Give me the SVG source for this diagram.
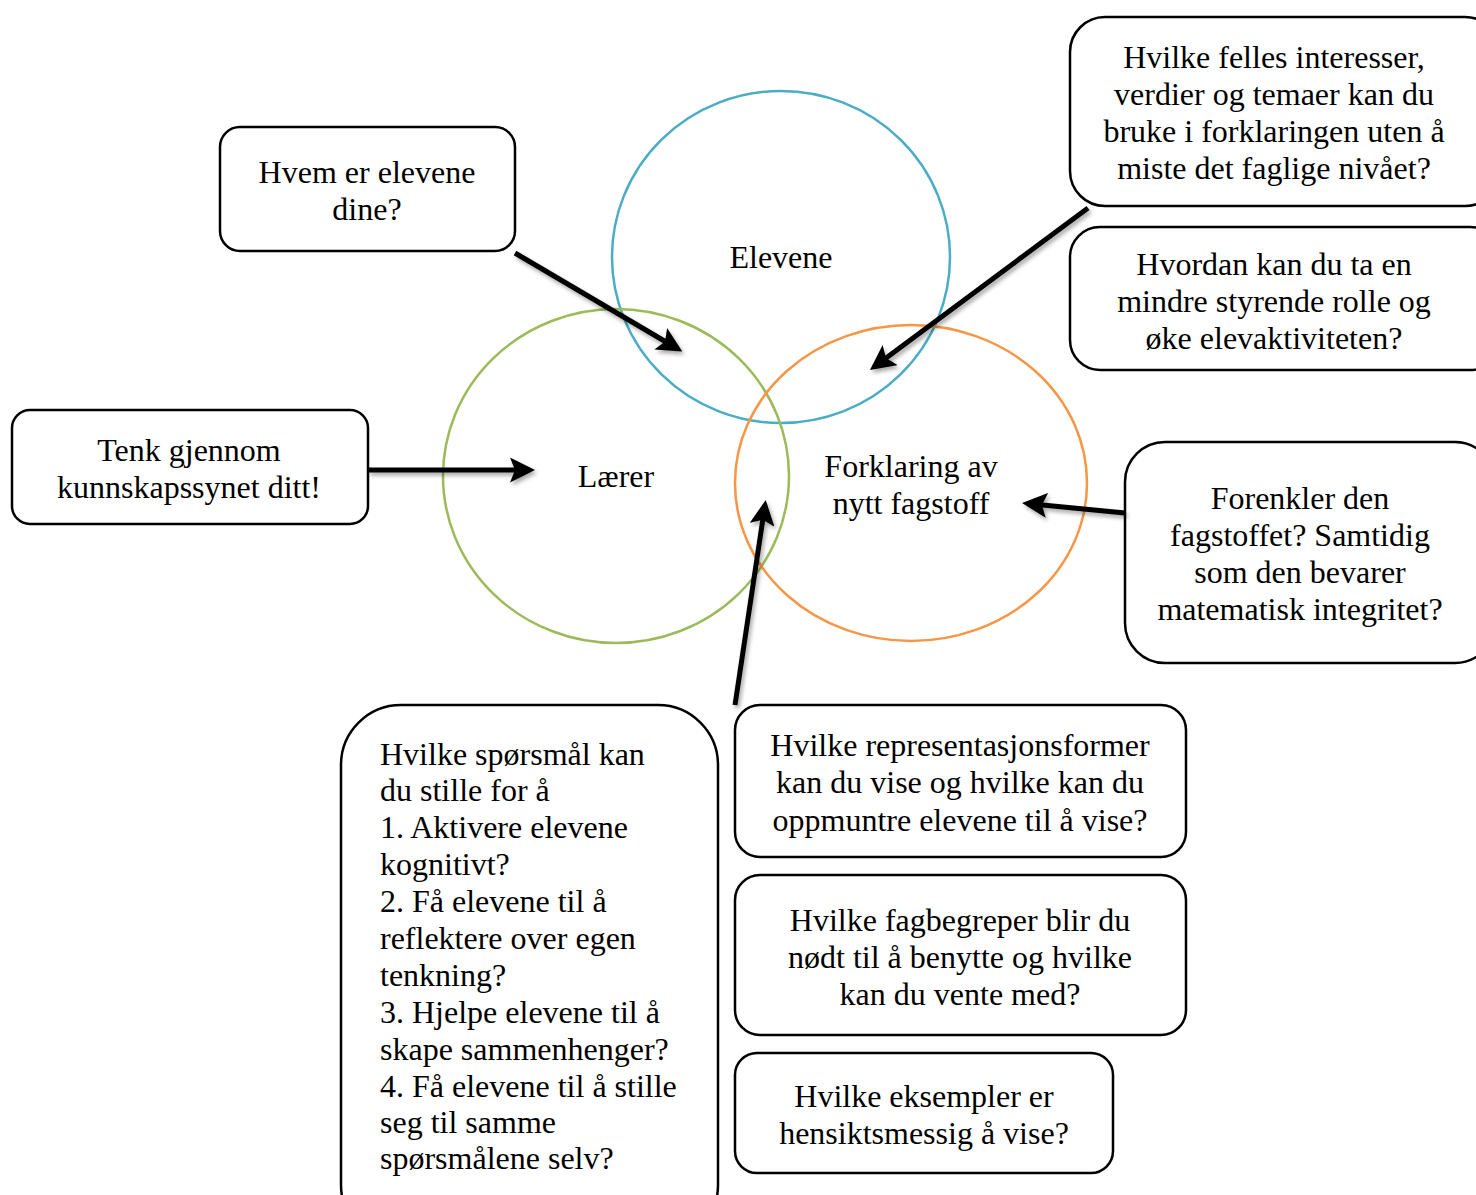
<svg xmlns="http://www.w3.org/2000/svg" width="1476" height="1195" viewBox="0 0 1476 1195">
<defs>
<style>
.box{fill:#fff;stroke:#000;stroke-width:2.5}
.t{font-family:"Liberation Serif","Times New Roman",serif;font-size:32px;fill:#000;text-anchor:middle}
.l{text-anchor:start}
.conn{stroke:#000;stroke-width:5;fill:none;marker-end:url(#ah)}
</style>
<marker id="ah" markerWidth="5" markerHeight="5" refX="4" refY="2.5" orient="auto" markerUnits="strokeWidth">
<path d="M0,0 L5,2.5 L0,5 L1,2.5 Z" fill="#000"/>
</marker>
<filter id="sh" x="-10%" y="-10%" width="130%" height="130%">
<feGaussianBlur in="SourceAlpha" stdDeviation="2"/>
<feOffset dx="2" dy="3"/>
<feComponentTransfer><feFuncA type="linear" slope="0.35"/></feComponentTransfer>
<feMerge><feMergeNode/><feMergeNode in="SourceGraphic"/></feMerge>
</filter>
</defs>
<rect width="1476" height="1195" fill="#fff"/>
<g id="circles" fill="none" stroke-width="2.5">
<ellipse id="c-elevene" cx="781" cy="257" rx="169" ry="166" stroke="#4BACC6"/>
<ellipse id="c-laerer" cx="616" cy="476" rx="173" ry="167" stroke="#9BBB59"/>
<ellipse id="c-forklaring" cx="911" cy="483" rx="176" ry="158" stroke="#F79646"/>
</g>
<g id="labels">
<text class="t" x="781" y="268">Elevene</text>
<text class="t" x="616" y="487">Lærer</text>
<text class="t" x="911" y="477">Forklaring av</text>
<text class="t" x="911" y="514">nytt fagstoff</text>
</g>
<g id="n-hvem">
<rect class="box" x="220" y="127" width="295" height="124" rx="20"/>
<text class="t" x="367" y="183">Hvem er elevene</text>
<text class="t" x="367" y="220">dine?</text>
</g>
<g id="n-tenk">
<rect class="box" x="12" y="410" width="356" height="114" rx="18"/>
<text class="t" x="189" y="461">Tenk gjennom</text>
<text class="t" x="189" y="498">kunnskapssynet ditt!</text>
</g>
<g id="n-felles">
<rect class="box" x="1070" y="17" width="430" height="189" rx="35"/>
<text class="t" x="1274" y="68">Hvilke felles interesser,</text>
<text class="t" x="1274" y="105">verdier og temaer kan du</text>
<text class="t" x="1274" y="142">bruke i forklaringen uten å</text>
<text class="t" x="1274" y="179">miste det faglige nivået?</text>
</g>
<g id="n-hvordan">
<rect class="box" x="1070" y="227" width="430" height="143" rx="30"/>
<text class="t" x="1274" y="275">Hvordan kan du ta en</text>
<text class="t" x="1274" y="312">mindre styrende rolle og</text>
<text class="t" x="1274" y="349">øke elevaktiviteten?</text>
</g>
<g id="n-forenkler">
<rect class="box" x="1125" y="442" width="370" height="221" rx="40"/>
<text class="t" x="1300" y="509">Forenkler den</text>
<text class="t" x="1300" y="546">fagstoffet? Samtidig</text>
<text class="t" x="1300" y="583">som den bevarer</text>
<text class="t" x="1300" y="620">matematisk integritet?</text>
</g>
<g id="n-sporsmal">
<rect class="box" x="341" y="705" width="377" height="540" rx="60"/>
<text class="t l" x="380" y="765">Hvilke spørsmål kan</text>
<text class="t l" x="380" y="801">du stille for å</text>
<text class="t l" x="380" y="838">1. Aktivere elevene</text>
<text class="t l" x="380" y="875">kognitivt?</text>
<text class="t l" x="380" y="912">2. Få elevene til å</text>
<text class="t l" x="380" y="949">reflektere over egen</text>
<text class="t l" x="380" y="986">tenkning?</text>
<text class="t l" x="380" y="1023">3. Hjelpe elevene til å</text>
<text class="t l" x="380" y="1060">skape sammenhenger?</text>
<text class="t l" x="380" y="1097">4. Få elevene til å stille</text>
<text class="t l" x="380" y="1133">seg til samme</text>
<text class="t l" x="380" y="1169">spørsmålene selv?</text>
</g>
<g id="n-repr">
<rect class="box" x="735" y="705" width="451" height="152" rx="25"/>
<text class="t" x="960" y="756">Hvilke representasjonsformer</text>
<text class="t" x="960" y="793">kan du vise og hvilke kan du</text>
<text class="t" x="960" y="831">oppmuntre elevene til å vise?</text>
</g>
<g id="n-fagbegreper">
<rect class="box" x="735" y="875" width="451" height="160" rx="25"/>
<text class="t" x="960" y="931">Hvilke fagbegreper blir du</text>
<text class="t" x="960" y="968">nødt til å benytte og hvilke</text>
<text class="t" x="960" y="1005">kan du vente med?</text>
</g>
<g id="n-eksempler">
<rect class="box" x="735" y="1053" width="378" height="120" rx="22"/>
<text class="t" x="924" y="1107">Hvilke eksempler er</text>
<text class="t" x="924" y="1144">hensiktsmessig å vise?</text>
</g>
<g id="connectors" filter="url(#sh)">
<line class="conn" x1="515" y1="253" x2="678" y2="349"/>
<line class="conn" x1="1088" y1="208" x2="874" y2="367"/>
<line class="conn" x1="368" y1="470" x2="530" y2="470"/>
<line class="conn" x1="735" y1="705" x2="765" y2="505"/>
<line class="conn" x1="1125" y1="513" x2="1027" y2="503.5"/>
</g>
</svg>
